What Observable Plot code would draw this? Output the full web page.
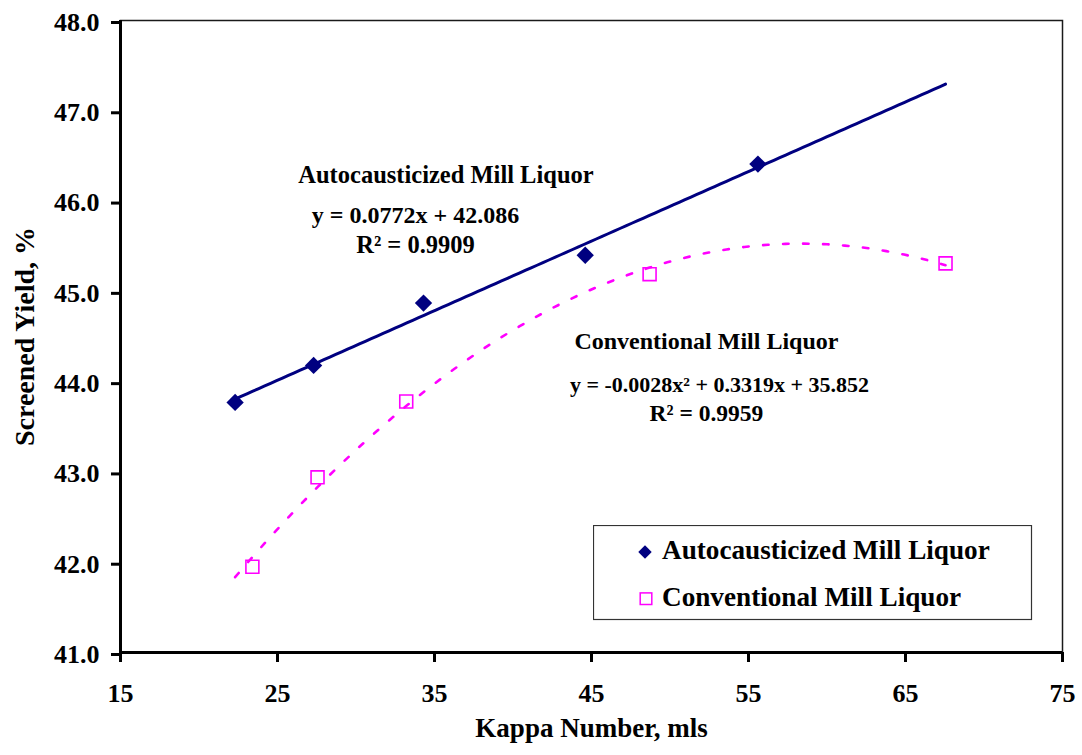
<!DOCTYPE html>
<html>
<head>
<meta charset="utf-8">
<script src="https://cdn.jsdelivr.net/npm/d3@7"></script>
<script src="https://cdn.jsdelivr.net/npm/@observablehq/plot@0.6"></script>
<style>
  body { margin: 0; background: #fff; }
  #chart { position: relative; width: 1082px; height: 755px; }
  #legend { position: absolute; left: 593px; top: 525px; }
</style>
</head>
<body>
<div id="chart"></div>
<script>
// Screened yield vs. kappa number for two white liquors
const kappaAuto = [22.3, 27.3, 34.3, 44.6, 55.6];
const yieldAuto = [43.77, 44.18, 44.87, 45.40, 46.41];
const kappaConv = [23.4, 27.55, 33.2, 48.7, 67.55];
const yieldConv = [41.95, 42.94, 43.78, 45.19, 45.31];

const seriesNames = ["Autocausticized Mill Liquor", "Conventional Mill Liquor"];
const seriesColors = ["#000080", "#FF00FF"];
const eqAuto = ["y = 0.0772x + 42.086", "R² = 0.9909"];
const eqConv = ["y = -0.0028x² + 0.3319x + 35.852", "R² = 0.9959"];

const xTicks = [15, 25, 35, 45, 55, 65, 75];
const yTicks = [41, 42, 43, 44, 45, 46, 47, 48];

const FONT = "'Liberation Serif', 'Times New Roman', serif";

const auto = kappaAuto.map((k, i) => ({kappa: k, yield: yieldAuto[i]}));
const conv = kappaConv.map((k, i) => ({kappa: k, yield: yieldConv[i]}));

// least-squares polynomial fit, returns [c0, c1, ..., cdeg]
function polyfit(xs, ys, deg) {
  const n = deg + 1;
  const A = Array.from({length: n}, () => new Array(n + 1).fill(0));
  for (let k = 0; k < xs.length; k++) {
    for (let i = 0; i < n; i++) {
      for (let j = 0; j < n; j++) A[i][j] += xs[k] ** (i + j);
      A[i][n] += ys[k] * xs[k] ** i;
    }
  }
  for (let i = 0; i < n; i++) {
    let p = i;
    for (let r = i + 1; r < n; r++) if (Math.abs(A[r][i]) > Math.abs(A[p][i])) p = r;
    [A[i], A[p]] = [A[p], A[i]];
    for (let r = 0; r < n; r++) {
      if (r === i) continue;
      const f = A[r][i] / A[i][i];
      for (let c = i; c <= n; c++) A[r][c] -= f * A[i][c];
    }
  }
  return A.map((row, i) => row[n] / row[i]);
}

const fitAuto = polyfit(kappaAuto, yieldAuto, 1);
const fitConv = polyfit(kappaConv, yieldConv, 2);
const [k0, k1] = d3.extent([...kappaAuto, ...kappaConv]);
const steps = d3.range(0, 121).map(i => k0 + (k1 - k0) * i / 120);
const evalPoly = (c, x) => c.reduce((s, ci, i) => s + ci * x ** i, 0);
const trendAuto = steps.map(x => ({kappa: x, yield: evalPoly(fitAuto, x)}));
const trendConv = steps.map(x => ({kappa: x, yield: evalPoly(fitConv, x)}));

// fitted-curve annotations: series name, equation, R²
const notes = [
  {kappa: 35.73, yield: 46.289, text: seriesNames[0], size: 24.5},
  {kappa: 33.79, yield: 45.846, text: eqAuto[0], size: 24},
  {kappa: 33.79, yield: 45.513, text: eqAuto[1], size: 24.5},
  {kappa: 52.32, yield: 44.450, text: seriesNames[1], size: 24},
  {kappa: 53.15, yield: 43.963, text: eqConv[0], size: 22},
  {kappa: 52.32, yield: 43.653, text: eqConv[1], size: 23.5}
];

const chart = Plot.plot({
  width: 1082,
  height: 755,
  marginLeft: 120,
  marginRight: 20,
  marginTop: 20,
  marginBottom: 103,
  style: {fontFamily: FONT, fontWeight: "bold", fontSize: "26px", background: "white", color: "black"},
  x: {domain: [15, 75]},
  y: {domain: [41, 48]},
  marks: [
    Plot.frame({stroke: "#1a1a1a", strokeWidth: 1.5}),
    Plot.axisX({ticks: xTicks, tickFormat: d3.format("d"), tickSize: 10, tickPadding: 21,
                fontSize: 26, fontWeight: "bold", strokeWidth: 3, label: null}),
    Plot.axisY({ticks: yTicks, tickFormat: d3.format(".1f"), tickSize: 9, tickPadding: 12,
                fontSize: 26, fontWeight: "bold", strokeWidth: 3, dy: 2, label: null}),
    Plot.ruleX([15], {strokeWidth: 3}),
    Plot.ruleY([41], {strokeWidth: 3}),
    Plot.dot(conv, {x: "kappa", y: "yield", symbol: "square", r: 7.3,
                    stroke: seriesColors[1], strokeWidth: 1.6, fill: "none"}),
    Plot.dot(auto, {x: "kappa", y: "yield", symbol: "diamond2", r: 7.8,
                    fill: seriesColors[0], stroke: "none"}),
    Plot.line(trendAuto, {x: "kappa", y: "yield", stroke: seriesColors[0], strokeWidth: 3}),
    Plot.line(trendConv, {x: "kappa", y: "yield", stroke: seriesColors[1], strokeWidth: 2.6,
                          strokeDasharray: "5.5,14.5"}),
    Plot.text(notes, {x: "kappa", y: "yield", text: "text", fontSize: "size", fontWeight: "bold",
                      textAnchor: "middle", lineAnchor: "middle", fill: "black"}),
    Plot.text(["Screened Yield, %"], {frameAnchor: "left", text: d => d, rotate: -90, dx: -95.7,
                                      textAnchor: "middle", lineAnchor: "middle",
                                      fontSize: 28, fontWeight: "bold", fill: "black"}),
    Plot.text(["Kappa Number, mls"], {frameAnchor: "bottom", text: d => d, dy: 76.3,
                                      textAnchor: "middle", lineAnchor: "middle",
                                      fontSize: 27, fontWeight: "bold", fill: "black"})
  ]
});

const host = document.getElementById("chart");
host.appendChild(chart);

// legend box drawn over the lower right of the plot area
const legend = d3.create("svg")
  .attr("id", "legend")
  .attr("width", 440)
  .attr("height", 96)
  .style("font-family", FONT)
  .style("font-weight", "bold");
legend.append("rect")
  .attr("x", 0.5).attr("y", 0.5).attr("width", 438).attr("height", 94)
  .attr("fill", "white").attr("stroke", "#333").attr("stroke-width", 1.2);
legend.append("path")
  .attr("d", d3.symbol(d3.symbolDiamond2, 115)())
  .attr("transform", "translate(52,27)")
  .attr("fill", seriesColors[0]);
legend.append("rect")
  .attr("x", 53 - 5.8).attr("y", 73.7 - 5.8).attr("width", 11.6).attr("height", 11.6)
  .attr("fill", "none").attr("stroke", seriesColors[1]).attr("stroke-width", 1.5);
legend.append("text").attr("x", 69).attr("y", 34).attr("font-size", 27.2).text(seriesNames[0]);
legend.append("text").attr("x", 69).attr("y", 81).attr("font-size", 27.2).text(seriesNames[1]);
host.appendChild(legend.node());
</script>
</body>
</html>
